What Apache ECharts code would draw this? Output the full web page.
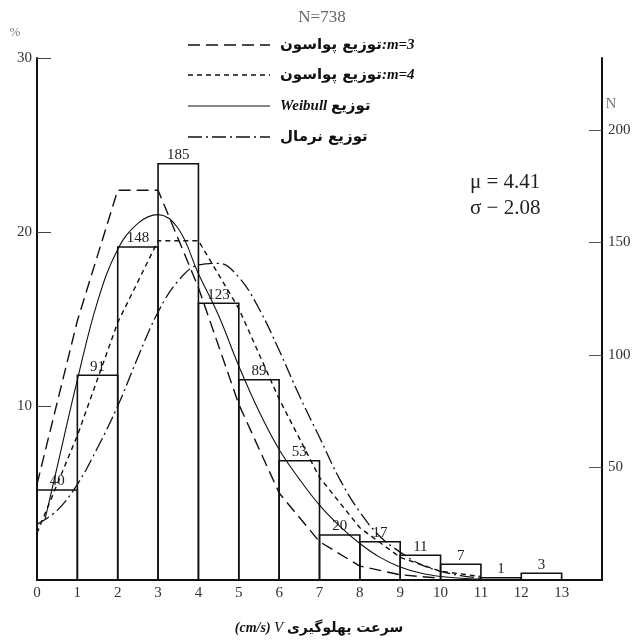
<!DOCTYPE html>
<html>
<head>
<meta charset="utf-8">
<script src="https://cdn.jsdelivr.net/npm/echarts@6/dist/echarts.min.js"></script>
<style>
  html, body { margin: 0; padding: 0; background: #fff; }
  #chart { width: 639px; height: 641px; }
</style>
</head>
<body>
<div id="chart"></div>
<script>
// Histogram of berthing speeds: bin start (cm/s) and number of observations
const binStarts = [0, 1, 2, 3, 4, 5, 6, 7, 8, 9, 10, 11, 12];
const counts = [40, 91, 148, 185, 123, 89, 53, 20, 17, 11, 7, 1, 3];

// Fitted distributions, in percent
const poisson3X = [0, 1, 2, 3, 4, 5, 6, 7, 8, 9, 10];
const poisson3Y = [5.5, 14.9, 22.4, 22.4, 16.8, 10.1, 5.0, 2.2, 0.8, 0.3, 0.1];

const poisson4X = [0, 1, 2, 3, 4, 5, 6, 7, 8, 9, 10, 11];
const poisson4Y = [2.7, 8.3, 14.8, 19.5, 19.5, 15.6, 10.4, 5.9, 3.0, 1.3, 0.5, 0.2];

const weibullX = [0.2, 0.5, 1, 1.5, 2, 2.5, 3, 3.5, 4, 4.5, 5, 5.5, 6, 6.5, 7, 7.5, 8, 8.5, 9, 9.5, 10, 10.5, 11];
const weibullY = [3.5, 6.5, 11.5, 16.0, 19.0, 20.5, 21.0, 20.2, 17.6, 15.2, 12.3, 9.7, 7.5, 5.8, 4.3, 3.1, 2.1, 1.3, 0.75, 0.4, 0.2, 0.1, 0.05];

const normalX = [0, 0.5, 1, 1.5, 2, 2.5, 3, 3.5, 4, 4.5, 5, 5.5, 6, 6.5, 7, 7.5, 8, 8.5, 9, 9.5, 10, 10.5, 11];
const normalY = [3.2, 4.0, 5.5, 7.6, 10.0, 12.8, 15.4, 17.2, 18.1, 18.2, 17.4, 15.6, 13.2, 10.6, 8.2, 5.8, 3.9, 2.5, 1.6, 0.9, 0.5, 0.25, 0.1];

// Axis ranges
const pctMax = 30, pctStep = 10;
const countMax = 232, countStep = 50;
const xMax = 14;

const ink = '#111';
const serif = '"Liberation Serif", "DejaVu Serif", serif';
const persian = '"DejaVu Sans", sans-serif';

const dashes = {
  poisson3: [12, 6],
  poisson4: [5, 4],
  weibull: 'solid',
  normal: [14, 4, 2, 4]
};

const pairs = (xs, ys) => xs.map((x, i) => [x, ys[i]]);

function lineSeries(name, xs, ys, dash, smooth, width) {
  return {
    name, type: 'line', xAxisIndex: 0, yAxisIndex: 0,
    data: pairs(xs, ys), symbol: 'none', smooth: smooth,
    lineStyle: { color: ink, width: width, type: dash },
    silent: true, z: 3
  };
}

const chart = echarts.init(document.getElementById('chart'), null, { renderer: 'canvas' });

const legendRows = [
  { y: 45, dash: dashes.poisson3, text: '{p|توزیع پواسون}{m|:m=3}' },
  { y: 75, dash: dashes.poisson4, text: '{p|توزیع پواسون}{m|:m=4}' },
  { y: 106, dash: dashes.weibull, text: '{m|Weibull }{p|توزیع}' },
  { y: 137, dash: dashes.normal, text: '{p|توزیع نرمال}' }
];

const legendGraphics = [];
legendRows.forEach(r => {
  legendGraphics.push({
    type: 'line', silent: true,
    shape: { x1: 188, y1: r.y, x2: 270, y2: r.y },
    style: { stroke: ink, lineWidth: r.dash === 'solid' ? 1 : 1.4, lineDash: r.dash === 'solid' ? null : r.dash }
  });
  legendGraphics.push({
    type: 'text', silent: true, x: 280, y: r.y,
    style: {
      text: r.text, verticalAlign: 'middle', align: 'left', fill: ink,
      rich: {
        p: { font: 'bold 15px ' + persian, fill: ink },
        m: { font: 'italic bold 15px ' + serif, fill: ink }
      }
    }
  });
});

chart.setOption({
  animation: false,
  backgroundColor: '#fff',
  grid: { left: 37, right: 37, top: 58, bottom: 61, containLabel: false },
  xAxis: {
    type: 'value', min: 0, max: xMax, interval: 1,
    axisLine: { show: true, lineStyle: { color: ink, width: 2 } },
    axisTick: { show: false },
    splitLine: { show: false },
    axisLabel: { showMaxLabel: false, margin: 6, color: '#333', fontFamily: serif, fontSize: 15 }
  },
  yAxis: [
    {
      type: 'value', min: 0, max: pctMax, interval: pctStep, position: 'left',
      axisLine: { show: true, lineStyle: { color: ink, width: 2 } },
      axisTick: { show: true, inside: true, length: 14, lineStyle: { color: '#444', width: 1 } },
      splitLine: { show: false },
      axisLabel: { showMinLabel: false, margin: 5, color: '#333', fontFamily: serif, fontSize: 15 }
    },
    {
      type: 'value', min: 0, max: countMax, interval: countStep, position: 'right',
      axisLine: { show: true, lineStyle: { color: ink, width: 2 } },
      axisTick: { show: true, inside: true, length: 13, lineStyle: { color: '#555', width: 1 } },
      splitLine: { show: false },
      axisLabel: { showMinLabel: false, showMaxLabel: false, margin: 6, color: '#333', fontFamily: serif, fontSize: 15 }
    }
  ],
  series: [
    {
      name: 'histogram', type: 'custom', xAxisIndex: 0, yAxisIndex: 1,
      data: binStarts.map((b, i) => [b, counts[i]]),
      clip: false, silent: true, z: 2,
      renderItem(params, api) {
        const x0 = api.value(0), n = api.value(1);
        const tl = api.coord([x0, n]);
        const br = api.coord([x0 + 1, 0]);
        return {
          type: 'group',
          children: [
            {
              type: 'rect',
              shape: { x: tl[0], y: tl[1], width: br[0] - tl[0], height: br[1] - tl[1] },
              style: { fill: 'none', stroke: ink, lineWidth: 1.6 }
            },
            {
              type: 'text',
              style: {
                text: String(n), x: (tl[0] + br[0]) / 2, y: tl[1] - 1,
                align: 'center', verticalAlign: 'bottom',
                font: '15px ' + serif, fill: '#222'
              }
            }
          ]
        };
      }
    },
    lineSeries('poisson3', poisson3X, poisson3Y, dashes.poisson3, false, 1.4),
    lineSeries('poisson4', poisson4X, poisson4Y, dashes.poisson4, false, 1.4),
    lineSeries('weibull', weibullX, weibullY, dashes.weibull, 0.4, 1.1),
    lineSeries('normal', normalX, normalY, dashes.normal, 0.4, 1.3)
  ],
  graphic: [
    { type: 'text', silent: true, x: 322, y: 18,
      style: { text: 'N=738', align: 'center', verticalAlign: 'middle', font: '17px ' + serif, fill: '#666' } },
    { type: 'text', silent: true, x: 15, y: 33,
      style: { text: '%', align: 'center', verticalAlign: 'middle', font: '13px ' + serif, fill: '#777' } },
    { type: 'text', silent: true, x: 611, y: 104,
      style: { text: 'N', align: 'center', verticalAlign: 'middle', font: '15px ' + serif, fill: '#777' } },
    { type: 'text', silent: true, x: 470, y: 182,
      style: { text: 'μ = 4.41', align: 'left', verticalAlign: 'middle', font: '21px ' + serif, fill: '#222' } },
    { type: 'text', silent: true, x: 470, y: 208,
      style: { text: 'σ − 2.08', align: 'left', verticalAlign: 'middle', font: '21px ' + serif, fill: '#222' } },
    { type: 'text', silent: true, x: 319, y: 628,
      style: {
        text: '{a|(cm/s) }{b|V }{c|سرعت پهلوگیری}', align: 'center', verticalAlign: 'middle',
        rich: {
          a: { font: 'italic bold 14px ' + serif, fill: ink },
          b: { font: 'italic 15px ' + serif, fill: ink },
          c: { font: 'bold 14px ' + persian, fill: ink }
        }
      } }
  ].concat(legendGraphics)
});
</script>
</body>
</html>
